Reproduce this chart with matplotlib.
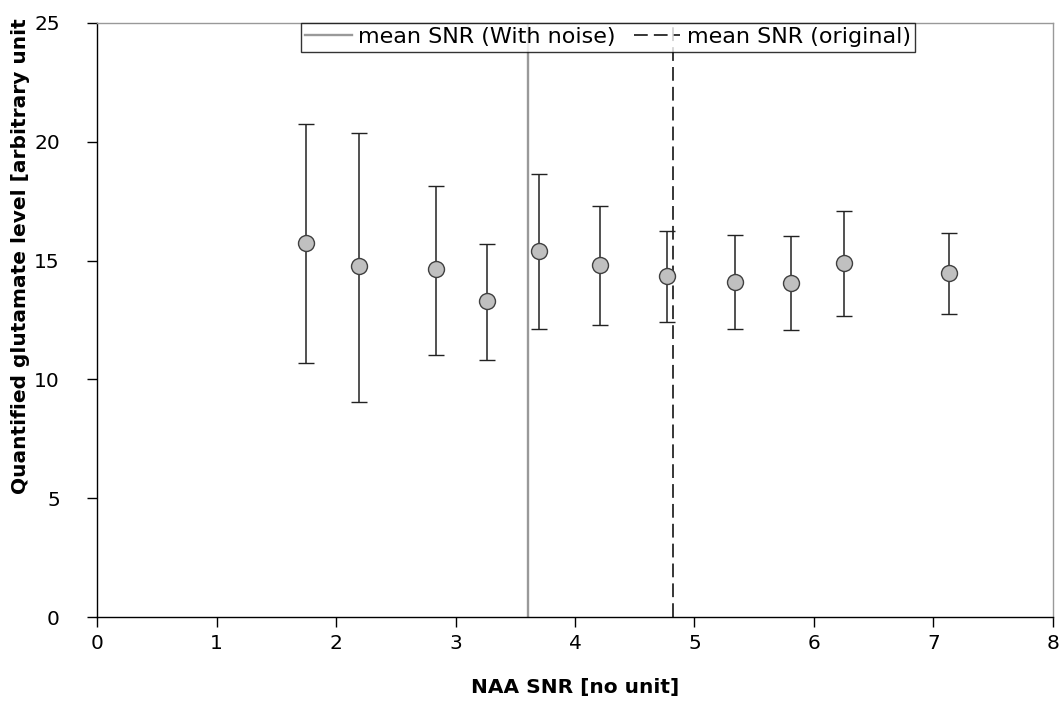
import numpy as np
import matplotlib

matplotlib.rc("font", family=["DejaVu Sans"])
import matplotlib.pyplot as plt


# NAA SNR and quantified glutamate (mean, lower end, upper end of error bar)
snr = [1.75, 2.19, 2.84, 3.26, 3.70, 4.21, 4.77, 5.34, 5.81, 6.25, 7.13]
glu = [15.73, 14.77, 14.63, 13.30, 15.42, 14.82, 14.37, 14.11, 14.07, 14.91, 14.47]
glu_low = [10.68, 9.07, 11.03, 10.82, 12.12, 12.28, 12.43, 12.12, 12.08, 12.68, 12.74]
glu_high = [20.73, 20.35, 18.15, 15.69, 18.65, 17.30, 16.26, 16.09, 16.05, 17.10, 16.15]

mean_snr_noise = 3.61
mean_snr_orig = 4.82

x_ticks = [0, 1, 2, 3, 4, 5, 6, 7, 8]
y_ticks = [0, 5, 10, 15, 20, 25]

glu = np.array(glu)
yerr = [glu - np.array(glu_low), np.array(glu_high) - glu]

fig = plt.figure(figsize=(10.6, 7.13), dpi=100)
ax = fig.add_axes([0.0918, 0.1342, 0.9013, 0.834])

ax.errorbar(
    snr,
    glu,
    yerr=yerr,
    fmt="o",
    color="black",
    ecolor="#222222",
    elinewidth=1.1,
    capsize=6,
    capthick=1.1,
    markersize=11.5,
    markerfacecolor="#c0c0c0",
    markeredgecolor="#404040",
    markeredgewidth=1.0,
    zorder=3,
)

ax.axvline(mean_snr_noise, color="#999999", lw=1.7, label="mean SNR (With noise)", zorder=2)
ax.axvline(
    mean_snr_orig,
    color="black",
    lw=1.1,
    dashes=(9, 4),
    label="mean SNR (original)",
    zorder=2,
)

ax.set_xlim(0, 8)
ax.set_ylim(0, 25)
ax.set_xticks(x_ticks)
ax.set_yticks(y_ticks)
ax.tick_params(axis="both", direction="out", length=7, width=1, labelsize=14.5)
ax.tick_params(axis="y", pad=20)
ax.tick_params(axis="x", pad=5)

for side in ["top", "right"]:
    ax.spines[side].set_color("#999999")
    ax.spines[side].set_linewidth(1.0)
for side in ["left", "bottom"]:
    ax.spines[side].set_color("black")
    ax.spines[side].set_linewidth(1.0)

ax.set_xlabel("NAA SNR [no unit]", fontsize=14.5, fontweight="bold", labelpad=18)
ax.set_ylabel("Quantified glutamate level [arbitrary unit", fontsize=14.5, fontweight="bold")
ax.yaxis.set_label_coords(-0.0705, 0.6076)

leg = ax.legend(
    loc="upper center",
    bbox_to_anchor=(0.5345, 1.0),
    borderaxespad=0,
    ncol=2,
    fontsize=16,
    frameon=True,
    fancybox=False,
    handlelength=2.1,
    handletextpad=0.3,
    columnspacing=0.8,
    borderpad=0.2,
)
leg.get_frame().set_edgecolor("black")
leg.get_frame().set_linewidth(1.0)

fig.savefig("out.png", dpi=100)
